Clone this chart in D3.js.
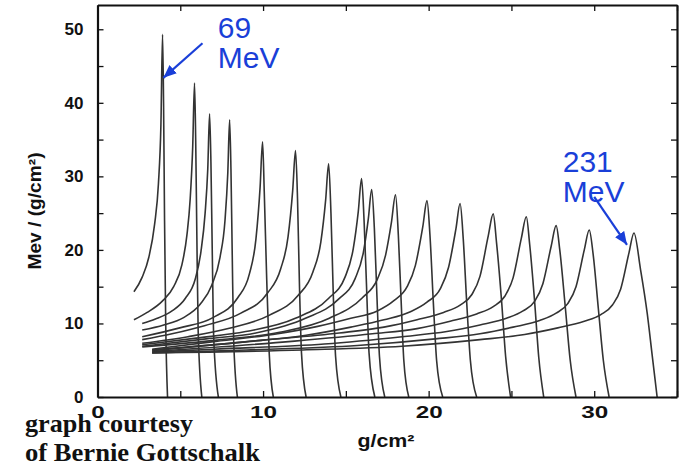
<!DOCTYPE html>
<html>
<head>
<meta charset="utf-8">
<script src="https://cdn.jsdelivr.net/npm/d3@7"></script>
<style>
  body { margin: 0; background: #fff; }
  svg { display: block; }
  .axis text { font-family: "Liberation Sans", Arial, sans-serif; font-weight: bold; font-size: 17px; fill: #111; }
  .axis path, .axis line { stroke: #111; }
</style>
</head>
<body>
<svg id="chart" width="685" height="466"></svg>
<script>
// Bragg curves, depth (g/cm2) vs stopping (MeV / (g/cm2)).
// Lowest energy (69 MeV) first, highest (231 MeV) last.
const c01 = [[2.2,14.3],[2.7,16.3],[3.1,19.0],[3.45,23.5],[3.68,29],[3.83,37],[3.93,49.3],[3.99,40],[4.05,24],[4.12,10],[4.23,0]];
const c02 = [[2.2,10.5],[3.0,11.5],[3.9,13.0],[4.6,15.0],[5.1,18.0],[5.4,22],[5.6,27],[5.75,34],[5.86,42.7],[5.93,35],[6.0,22],[6.08,9],[6.3,0]];
const c03 = [[2.7,10.0],[3.5,10.6],[4.5,11.7],[5.3,13.4],[5.9,16.0],[6.25,19.8],[6.5,25],[6.66,31],[6.77,38.5],[6.85,32],[6.93,20],[7.02,8],[7.3,0]];
const c04 = [[2.7,9.1],[4.0,9.8],[5.2,10.8],[6.2,12.6],[6.9,15.2],[7.4,19],[7.7,24],[7.87,30.5],[7.98,37.7],[8.06,31],[8.14,19],[8.22,8],[8.45,0]];
const c05 = [[2.7,8.2],[4.97,9.4],[6.97,10.8],[8.47,13.5],[9.17,16.7],[9.57,21.5],[9.82,28.5],[9.97,34.7],[10.07,28],[10.22,16],[10.37,6],[10.62,0]];
const c06 = [[2.7,7.8],[4.5,8.6],[6.46,9.7],[8.66,11.4],[10.26,14.1],[11.06,17.4],[11.51,21.8],[11.79,28.1],[11.96,33.5],[12.08,27],[12.2,15],[12.32,6],[12.6,0]];
const c07 = [[2.7,7.3],[5.46,8.2],[7.96,9.35],[10.36,11.1],[12.11,13.8],[13.01,17.0],[13.49,21.1],[13.78,26.8],[13.96,31.7],[14.1,25],[14.24,14],[14.38,5.5],[14.7,0]];
const c08 = [[2.7,7.1],[5.95,8.0],[8.95,8.9],[11.95,10.7],[13.95,13.4],[14.95,16.3],[15.45,20.2],[15.75,25.2],[15.95,29.7],[16.1,24],[16.25,15],[16.4,6],[16.75,0]];
const c09 = [[2.7,6.9],[6.56,7.9],[9.56,8.7],[12.56,10.7],[14.56,13.3],[15.56,16.1],[16.06,19.7],[16.36,24.3],[16.56,28.2],[16.72,23],[16.88,13.5],[17.03,5.5],[17.35,0]];
const c10 = [[2.7,6.8],[7.5,7.8],[11.0,8.8],[14.0,10.7],[16.0,13.5],[16.9,16.0],[17.4,19.3],[17.75,23.7],[18.0,27.5],[18.17,22],[18.34,13],[18.5,5],[18.8,0]];
const c11 = [[3.3,6.5],[6.9,7.5],[10.6,8.5],[13.3,9.6],[15.3,10.7],[16.9,11.7],[17.9,13.1],[18.7,15.0],[19.2,17.9],[19.65,23.2],[19.9,26.7],[20.08,22],[20.28,13],[20.48,5],[20.85,0]];
const c12 = [[3.3,6.4],[8.9,7.5],[12.6,8.4],[15.3,9.5],[17.3,10.5],[18.9,11.6],[19.9,12.9],[20.7,14.7],[21.2,17.6],[21.65,22.9],[21.9,26.3],[22.09,21.5],[22.3,12.8],[22.52,5],[22.9,0]];
const c13 = [[3.3,6.3],[9.9,7.7],[14.6,8.7],[17.3,9.5],[19.3,10.5],[20.9,11.5],[21.9,12.5],[22.6,13.9],[23.1,16.4],[23.6,21.9],[23.9,24.9],[24.1,21],[24.4,13.2],[24.65,5.5],[24.95,0]];
const c14 = [[3.3,6.2],[11.9,7.6],[16.6,8.6],[19.3,9.3],[21.3,10.3],[22.9,11.3],[23.9,12.3],[24.6,13.7],[25.1,16.2],[25.6,21.6],[25.9,24.5],[26.1,20.8],[26.4,13.0],[26.65,5.4],[26.95,0]];
const c15 = [[3.3,6.1],[7.0,6.5],[13.7,7.2],[18.4,8.2],[21.1,8.9],[23.1,9.8],[24.7,10.7],[25.7,11.7],[26.4,13.0],[26.9,15.4],[27.4,20.5],[27.7,23.3],[27.92,20],[28.25,12.3],[28.55,5],[28.9,0]];
const c16 = [[3.3,6.0],[9.0,6.4],[15.7,7.0],[20.4,7.9],[23.1,8.6],[25.1,9.5],[26.7,10.4],[27.7,11.4],[28.4,12.7],[28.9,15.0],[29.4,20.0],[29.7,22.7],[29.93,19.5],[30.25,12],[30.55,5],[30.9,0]];
const c17 = [[3.3,6.0],[12.4,6.4],[18.4,6.9],[23.1,7.8],[25.8,8.5],[27.8,9.4],[29.4,10.3],[30.4,11.2],[31.1,12.5],[31.6,14.7],[32.1,19.6],[32.4,22.3],[32.8,17.3],[33.2,11.4],[33.5,5.7],[33.8,0]];
const curves = [c01, c02, c03, c04, c05, c06, c07, c08, c09, c10, c11, c12, c13, c14, c15, c16, c17];

const xTicks = [0, 5, 10, 15, 20, 25, 30, 35];
const yTicks = [0, 5, 10, 15, 20, 25, 30, 35, 40, 45, 50];

// energy call-outs: [label lines, text anchor, arrow start, arrow tip] in data units
const lowLabel = ["69", "MeV"];
const lowText = [7.26, 48.8];
const lowArrow = [[6.34, 48.1], [3.98, 43.4]];
const highLabel = ["231", "MeV"];
const highText = [28.1, 30.6];
const highArrow = [[30.0, 27.2], [31.98, 20.7]];

const credit = ["graph courtesy", "of Bernie Gottschalk"];

const svg = d3.select("#chart");
const x = d3.scaleLinear().domain([0, 35]).range([97.5, 677]);
const y = d3.scaleLinear().domain([0, 53.3]).range([397, 5]);
const blue = "#1a3fd8";

const line = d3.line()
    .x(d => x(d[0]))
    .y(d => y(d[1]))
    .curve(d3.curveMonotoneX);

svg.append("g")
    .selectAll("path")
    .data(curves)
    .join("path")
    .attr("d", line)
    .attr("fill", "none")
    .attr("stroke", "#333")
    .attr("stroke-width", 1.6);

// axes: ticks point inwards on all four sides, labels only on decades
const decade = d => d % 10 === 0 ? d : "";
svg.append("g").attr("class", "axis")
    .attr("transform", `translate(0,${y(0)})`)
    .call(d3.axisBottom(x).tickValues(xTicks).tickSize(-6).tickSizeOuter(0).tickPadding(9).tickFormat(decade))
    .call(g => g.selectAll("text").filter(d => d === 35).remove())
    .call(g => g.selectAll("text").attr("font-size", 18).attr("textLength", d => String(d).length * 13.5).attr("lengthAdjust", "spacingAndGlyphs"));
svg.append("g").attr("class", "axis")
    .attr("transform", `translate(0,${y(53.3)})`)
    .call(d3.axisTop(x).tickValues(xTicks).tickSize(-6).tickSizeOuter(0).tickFormat(""));
svg.append("g").attr("class", "axis")
    .attr("transform", `translate(${x(0)},0)`)
    .call(d3.axisLeft(y).tickValues(yTicks).tickSize(-6).tickSizeOuter(0).tickPadding(14).tickFormat(decade));
svg.append("g").attr("class", "axis")
    .attr("transform", `translate(${x(35)},0)`)
    .call(d3.axisRight(y).tickValues(yTicks).tickSize(-6).tickSizeOuter(0).tickFormat(""));
svg.selectAll(".axis path.domain").attr("stroke-width", 2.2);
svg.selectAll(".axis line").attr("stroke-width", 1.3);

// axis titles
svg.append("text")
    .attr("transform", `translate(41,211) rotate(-90)`)
    .attr("text-anchor", "middle")
    .attr("font-family", "Liberation Sans, Arial, sans-serif")
    .attr("font-weight", "bold")
    .attr("font-size", 18)
    .attr("textLength", 117)
    .attr("lengthAdjust", "spacingAndGlyphs")
    .attr("fill", "#111")
    .text("Mev / (g/cm²)");
svg.append("text")
    .attr("x", 386).attr("y", 447)
    .attr("text-anchor", "middle")
    .attr("font-family", "Liberation Sans, Arial, sans-serif")
    .attr("font-weight", "bold")
    .attr("font-size", 18)
    .attr("textLength", 57)
    .attr("lengthAdjust", "spacingAndGlyphs")
    .attr("fill", "#111")
    .text("g/cm²");

// credit
svg.append("text")
    .attr("x", 25).attr("y", 432)
    .attr("font-family", "Liberation Serif, Times New Roman, serif")
    .attr("font-weight", "bold")
    .attr("font-size", 25)
    .attr("fill", "#111")
    .selectAll("tspan")
    .data(credit)
    .join("tspan")
    .attr("x", 25)
    .attr("dy", (d, i) => i ? 29 : 0)
    .attr("textLength", (d, i) => i ? 235 : 168)
    .attr("lengthAdjust", "spacingAndGlyphs")
    .text(d => d);

// energy call-outs
svg.append("defs").append("marker")
    .attr("id", "head")
    .attr("markerUnits", "userSpaceOnUse")
    .attr("markerWidth", 14).attr("markerHeight", 12)
    .attr("refX", 13).attr("refY", 6)
    .attr("orient", "auto")
    .append("path")
    .attr("d", "M0,0.5 L13,6 L0,11.5 Z")
    .attr("fill", blue);

function callout(lines, at, arrow) {
    svg.append("text")
        .attr("x", x(at[0])).attr("y", y(at[1]))
        .attr("font-family", "Liberation Sans, Arial, sans-serif")
        .attr("font-size", 30)
        .attr("fill", blue)
        .selectAll("tspan")
        .data(lines)
        .join("tspan")
        .attr("x", x(at[0]))
        .attr("dy", (d, i) => i ? 30 : 0)
        .text(d => d);
    svg.append("line")
        .attr("x1", x(arrow[0][0])).attr("y1", y(arrow[0][1]))
        .attr("x2", x(arrow[1][0])).attr("y2", y(arrow[1][1]))
        .attr("stroke", blue)
        .attr("stroke-width", 2.2)
        .attr("marker-end", "url(#head)");
}
callout(lowLabel, lowText, lowArrow);
callout(highLabel, highText, highArrow);
</script>
</body>
</html>
